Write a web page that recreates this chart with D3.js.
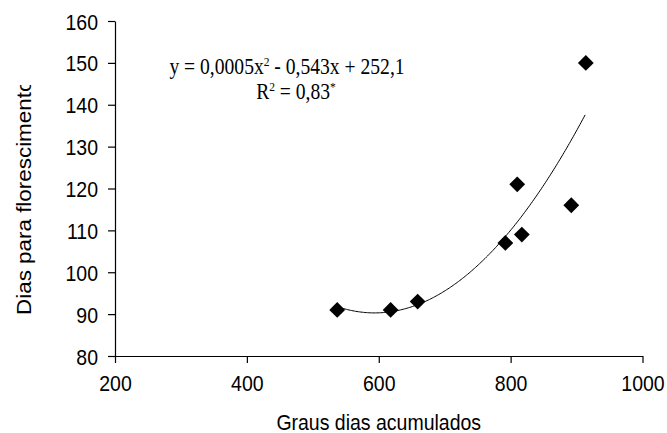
<!DOCTYPE html>
<html>
<head>
<meta charset="utf-8">
<script src="https://cdn.jsdelivr.net/npm/d3@7"></script>
<style>
  body { margin: 0; background: #fff; }
  text { fill: #000; }
</style>
</head>
<body>
<svg id="chart" width="667" height="433"></svg>
<script>
// accumulated degree days vs days to flowering
var grausDias = [537, 618, 659, 792, 810, 817, 892, 914];
var diasFlor  = [91, 91, 93, 107, 121, 109, 116, 150];

var xTicks = [200, 400, 600, 800, 1000];
var yTicks = [80, 90, 100, 110, 120, 130, 140, 150, 160];

var eqLine1 = ["y = 0,0005x", "2", " - 0,543x + 252,1"];
var eqLine2 = ["R", "2", " = 0,83", "*"];

var xTitle = "Graus dias acumulados";
var yTitle = "Dias para florescimento";

// plot box
var margin = {top: 21, right: 24.5, bottom: 77, left: 115},
  width = 667 - margin.left - margin.right,
  height = 433 - margin.top - margin.bottom;

var stretch = 1.15; // the original picture is stretched vertically

var svg = d3.select("#chart");
var defs = svg.append("defs");
defs.append("clipPath").attr("id", "ytclip")
  .attr("clipPathUnits", "userSpaceOnUse")
  .append("rect").attr("x", 0).attr("y", 85).attr("width", 60).attr("height", 300);

var g = svg.append("g")
  .attr("transform", "translate(" + margin.left + "," + margin.top + ")");

var x = d3.scaleLinear().domain([200, 1000]).range([0, width]);
var y = d3.scaleLinear().domain([80, 160]).range([height, 0]);

// x axis
var xAxis = g.append("g")
  .attr("transform", "translate(0," + height + ")")
  .call(d3.axisBottom(x).tickValues(xTicks).tickFormat(d3.format("d"))
    .tickSize(7).tickSizeOuter(0).tickPadding(10));

// y axis
var yAxis = g.append("g")
  .call(d3.axisLeft(y).tickValues(yTicks).tickFormat(d3.format("d"))
    .tickSize(7).tickSizeOuter(0).tickPadding(10));

[xAxis, yAxis].forEach(function(ax) {
  ax.select(".domain").attr("stroke", "#000").attr("stroke-width", 1.2);
  ax.selectAll(".tick line").attr("stroke", "#000").attr("stroke-width", 1.2);
  ax.selectAll(".tick text")
    .attr("font-family", "Arial, 'Liberation Sans', sans-serif")
    .attr("font-size", 19.5)
    .attr("fill", "#000");
});

xAxis.selectAll(".tick text").each(function() {
  var t = d3.select(this);
  t.attr("y", null).attr("dy", null)
   .attr("transform", "translate(0,35) scale(1," + stretch + ")");
});
yAxis.selectAll(".tick text").each(function() {
  var t = d3.select(this);
  t.attr("x", null).attr("dy", null)
   .attr("transform", "translate(-17,8) scale(1," + stretch + ")");
});

// least squares quadratic trend through the points
function quadFit(xs, ys) {
  var n = xs.length, s = [0, 0, 0, 0, 0], t = [0, 0, 0];
  for (var i = 0; i < n; i++) {
    var p = 1;
    for (var k = 0; k < 5; k++) { s[k] += p; if (k < 3) t[k] += p * ys[i]; p *= xs[i]; }
  }
  var A = [[s[0], s[1], s[2], t[0]], [s[1], s[2], s[3], t[1]], [s[2], s[3], s[4], t[2]]];
  for (var c = 0; c < 3; c++) {
    for (var r = c + 1; r < 3; r++) {
      var f = A[r][c] / A[c][c];
      for (var j = c; j < 4; j++) A[r][j] -= f * A[c][j];
    }
  }
  var b = [0, 0, 0];
  for (var r2 = 2; r2 >= 0; r2--) {
    var v = A[r2][3];
    for (var j2 = r2 + 1; j2 < 3; j2++) v -= A[r2][j2] * b[j2];
    b[r2] = v / A[r2][r2];
  }
  return function(xv) { return b[0] + b[1] * xv + b[2] * xv * xv; };
}
var trend = quadFit(grausDias, diasFlor);
var x0 = d3.min(grausDias), x1 = d3.max(grausDias);
var curve = d3.range(x0, x1 + 0.5, 2).map(function(v) { return [v, trend(v)]; });

g.append("path")
  .datum(curve)
  .attr("fill", "none")
  .attr("stroke", "#000")
  .attr("stroke-width", 1)
  .attr("d", d3.line().x(function(d) { return x(d[0]); }).y(function(d) { return y(d[1]); }));

// diamonds
var pts = grausDias.map(function(v, i) { return {gd: v, df: diasFlor[i]}; });
g.selectAll(".pt")
  .data(pts)
  .enter().append("path")
  .attr("class", "pt")
  .attr("d", d3.symbol().type(d3.symbolSquare).size(125))
  .attr("transform", function(d) { return "translate(" + x(d.gd) + "," + y(d.df) + ") rotate(45)"; })
  .attr("fill", "#000");

// equation
function eqText(parts, cx, cy) {
  var tx = svg.append("text")
    .attr("text-anchor", "middle")
    .attr("font-family", "'Times New Roman', 'Liberation Serif', serif")
    .attr("font-size", 19.6)
    .attr("transform", "translate(" + cx + "," + cy + ") scale(1," + stretch + ")");
  parts.forEach(function(p, i) {
    var sup = (p === "2" || p === "*");
    tx.append("tspan")
      .attr("font-size", sup ? 11.5 : 19.6)
      .attr("dy", sup ? -7 : (i > 0 ? 7 : 0))
      .text(p);
  });
}
eqText(eqLine1, 287, 74);
eqText(eqLine2, 296, 99);

// axis titles
svg.append("text")
  .attr("text-anchor", "middle")
  .attr("font-family", "Arial, 'Liberation Sans', sans-serif")
  .attr("font-size", 19.5)
  .attr("transform", "translate(" + (margin.left + width / 2) + ",430) scale(1," + stretch + ")")
  .text(xTitle);

// rotated title: stretch runs along the text here, and the end is cut off as in the original
svg.append("g").attr("clip-path", "url(#ytclip)")
  .append("text")
  .attr("text-anchor", "start")
  .attr("font-family", "Arial, 'Liberation Sans', sans-serif")
  .attr("font-size", 19.5)
  .attr("transform", "translate(31,315) rotate(-90) scale(" + stretch + ",1)")
  .text(yTitle);
</script>
</body>
</html>
